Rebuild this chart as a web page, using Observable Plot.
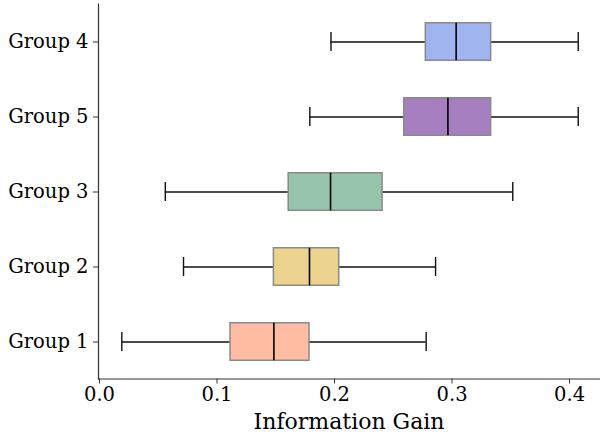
<!DOCTYPE html>
<html>
<head>
<meta charset="utf-8">
<script src="https://cdn.jsdelivr.net/npm/d3@7"></script>
<script src="https://cdn.jsdelivr.net/npm/@observablehq/plot@0.6"></script>
<style>
  html, body { margin: 0; padding: 0; background: #fff; }
  #chart svg { display: block; }
</style>
</head>
<body>
<div id="chart"></div>
<script>
const groups = ["Group 1", "Group 2", "Group 3", "Group 4", "Group 5"];
const whiskerLow  = [0.019, 0.0715, 0.056, 0.197, 0.179];
const q1          = [0.1115, 0.1484, 0.161, 0.2777, 0.2593];
const median      = [0.1484, 0.1787, 0.1966, 0.3035, 0.2965];
const q3          = [0.1787, 0.204, 0.2409, 0.3333, 0.3333];
const whiskerHigh = [0.278, 0.286, 0.3517, 0.4074, 0.4074];
const fills = ["#ffbca3", "#ecd28f", "#97c5ab", "#a0b4f0", "#a67fc1"];
const order = ["Group 4", "Group 5", "Group 3", "Group 2", "Group 1"];
const xTicks = [0.0, 0.1, 0.2, 0.3, 0.4];
const xLabel = "Information Gain";

const data = groups.map((g, i) => ({
  group: g, lo: whiskerLow[i], q1: q1[i], med: median[i], q3: q3[i], hi: whiskerHigh[i], fill: fills[i]
}));

const font = "DejaVu Serif";
const chart = Plot.plot({
  width: 600,
  height: 434,
  marginLeft: 98,
  marginRight: 1,
  marginTop: 3.5,
  marginBottom: 55.5,
  style: { fontFamily: font, background: "#fff" },
  x: { domain: [-0.00085, 0.4255], range: [98, 599] },
  y: { domain: order, padding: 0 },
  marks: [
    Plot.ruleY(data, { y: "group", x1: "lo", x2: "q1", stroke: "#111", strokeWidth: 1.4 }),
    Plot.ruleY(data, { y: "group", x1: "q3", x2: "hi", stroke: "#111", strokeWidth: 1.4 }),
    Plot.tickX(data, { y: "group", x: "lo", stroke: "#111", strokeWidth: 1.4, insetTop: 28, insetBottom: 28 }),
    Plot.tickX(data, { y: "group", x: "hi", stroke: "#111", strokeWidth: 1.4, insetTop: 28, insetBottom: 28 }),
    Plot.barX(data, { y: "group", x1: "q1", x2: "q3", fill: d => d.fill, stroke: "#8a8a8a", strokeWidth: 1.5, insetTop: 18.75, insetBottom: 18.75 }),
    Plot.tickX(data, { y: "group", x: "med", stroke: "#000", strokeWidth: 1.6, insetTop: 18.75, insetBottom: 18.75 }),
    Plot.frame({ anchor: "left", stroke: "#333", strokeWidth: 1.2 }),
    Plot.frame({ anchor: "bottom", stroke: "#333", strokeWidth: 1.2 }),
    Plot.axisX({ ticks: xTicks, tickFormat: d3.format(".1f"), tickSize: 5, tickPadding: 3.5, fontSize: 19.5, label: null, fontFamily: font, stroke: "#333", fill: "#000" }),
    Plot.axisY({ tickSize: 5, tickPadding: 5, fontSize: 19.5, label: null, fontFamily: font, stroke: "#333", fill: "#000" }),
    Plot.text([xLabel], { frameAnchor: "bottom", lineAnchor: "bottom", dy: 49.5, fontSize: 22, fontFamily: font, fill: "#000" })
  ]
});
document.getElementById("chart").appendChild(chart);
</script>
</body>
</html>
